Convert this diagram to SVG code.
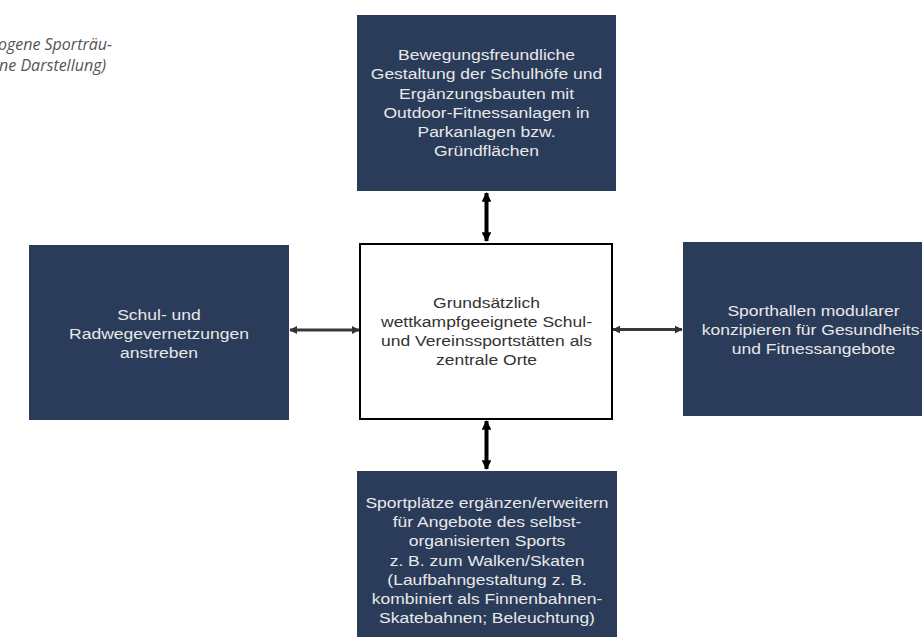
<svg xmlns="http://www.w3.org/2000/svg" width="922" height="638" viewBox="0 0 922 638">
<defs>
<style>
.box{fill:#2a3c5a;}
.center{fill:#ffffff;stroke:#000000;stroke-width:2;}
.lt{font-family:"Liberation Sans",Arial,sans-serif;font-size:15.5px;fill:#e8e8e8;text-anchor:middle;}
.dt{font-family:"Liberation Sans",Arial,sans-serif;font-size:15.5px;fill:#333333;text-anchor:middle;}
.cap{font-family:"Open Sans","DejaVu Sans",sans-serif;font-size:16px;font-style:italic;fill:#555555;text-anchor:end;}
.v{stroke:#000000;stroke-width:4;fill:none;}
.h{stroke:#3a3a3a;stroke-width:3;fill:none;}
</style>
<marker id="ah" viewBox="0 0 10 10" refX="9" refY="5" markerWidth="2.4" markerHeight="2.4" orient="auto-start-reverse" markerUnits="strokeWidth">
<path d="M0,0 L10,5 L0,10 z" fill="#000000"/>
</marker>
<marker id="ahh" viewBox="0 0 10 10" refX="9" refY="5" markerWidth="2.6" markerHeight="2.6" orient="auto-start-reverse" markerUnits="strokeWidth">
<path d="M0,0 L10,5 L0,10 z" fill="#333333"/>
</marker>
</defs>
<rect width="922" height="638" fill="#ffffff"/>
<g id="caption">
<text class="cap" x="112" y="50">ogene Sporträu-</text>
<text class="cap" x="106" y="71">ne Darstellung)</text>
</g>
<g id="connectors">
<line class="v" x1="486.5" y1="193" x2="486.5" y2="241" marker-start="url(#ah)" marker-end="url(#ah)"/>
<line class="v" x1="486.5" y1="421" x2="486.5" y2="469" marker-start="url(#ah)" marker-end="url(#ah)"/>
<line class="h" x1="290" y1="330" x2="359" y2="330" marker-start="url(#ahh)" marker-end="url(#ahh)"/>
<line class="h" x1="613" y1="329.5" x2="682" y2="329.5" marker-start="url(#ahh)" marker-end="url(#ahh)"/>
</g>
<g id="node-top">
<rect class="box" x="357" y="15" width="259" height="176"/>
<g transform="matrix(1.13 0 0 1 486.5 0)">
<text class="lt" x="0" y="60">Bewegungsfreundliche</text>
<text class="lt" x="0" y="79.3">Gestaltung der Schulhöfe und</text>
<text class="lt" x="0" y="98.6">Ergänzungsbauten mit</text>
<text class="lt" x="0" y="117.9">Outdoor-Fitnessanlagen in</text>
<text class="lt" x="0" y="137.2">Parkanlagen bzw.</text>
<text class="lt" x="0" y="156.5">Gründflächen</text>
</g>
</g>
<g id="node-left">
<rect class="box" x="29" y="245" width="260" height="175"/>
<g transform="matrix(1.13 0 0 1 159 0)">
<text class="lt" x="0" y="320">Schul- und</text>
<text class="lt" x="0" y="339">Radwegevernetzungen</text>
<text class="lt" x="0" y="358">anstreben</text>
</g>
</g>
<g id="node-center">
<rect class="center" x="360" y="244" width="252" height="175"/>
<g transform="matrix(1.13 0 0 1 486.5 0)">
<text class="dt" x="0" y="308">Grundsätzlich</text>
<text class="dt" x="0" y="327">wettkampfgeeignete Schul-</text>
<text class="dt" x="0" y="346">und Vereinssportstätten als</text>
<text class="dt" x="0" y="365">zentrale Orte</text>
</g>
</g>
<g id="node-right">
<rect class="box" x="683" y="242" width="262" height="174"/>
<g transform="matrix(1.13 0 0 1 813.5 0)">
<text class="lt" x="0" y="316">Sporthallen modularer</text>
<text class="lt" x="0" y="335">konzipieren für Gesundheits-</text>
<text class="lt" x="0" y="354">und Fitnessangebote</text>
</g>
</g>
<g id="node-bottom">
<rect class="box" x="357" y="471" width="260" height="166"/>
<g transform="matrix(1.13 0 0 1 487 0)">
<text class="lt" x="0" y="508">Sportplätze ergänzen/erweitern</text>
<text class="lt" x="0" y="527.2">für Angebote des selbst-</text>
<text class="lt" x="0" y="546.4">organisierten Sports</text>
<text class="lt" x="0" y="565.6">z. B. zum Walken/Skaten</text>
<text class="lt" x="0" y="584.8">(Laufbahngestaltung z. B.</text>
<text class="lt" x="0" y="604">kombiniert als Finnenbahnen-</text>
<text class="lt" x="0" y="623.2">Skatebahnen; Beleuchtung)</text>
</g>
</g>
</svg>
